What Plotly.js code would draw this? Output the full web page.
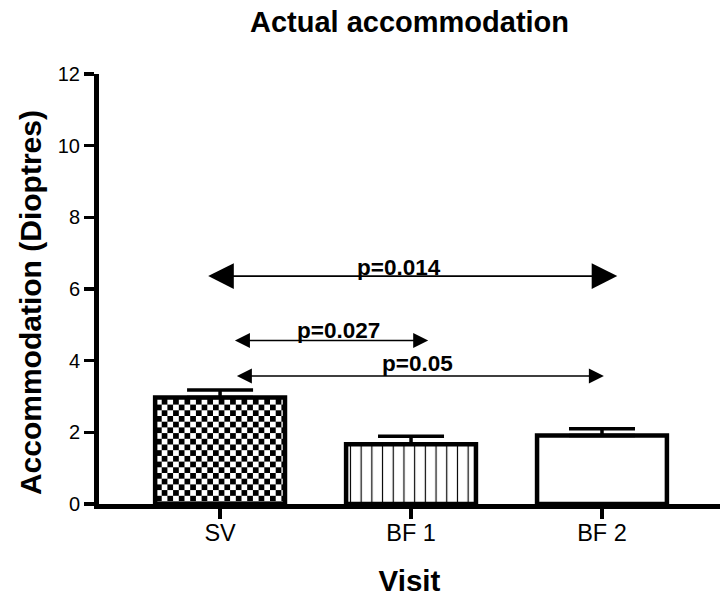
<!DOCTYPE html>
<html>
<head>
<meta charset="utf-8">
<script src="https://cdn.plot.ly/plotly-3.0.1.min.js"></script>
<style>html,body{margin:0;padding:0;background:#fff;}#chart{width:720px;height:597px;}</style>
</head>
<body>
<div id="chart"></div>
<script>
// ---- data ----
const visits = ["SV", "BF 1", "BF 2"];
const accommodation = [2.97, 1.67, 1.91];
const errorUp = [0.21, 0.22, 0.19];
const yTicks = [0, 2, 4, 6, 8, 10, 12];
const pLabels = ["p=0.014", "p=0.027", "p=0.05"];
const pFrom = [0, 0, 0];
const pTo = [2, 1, 2];
const pLevel = [6.36, 4.56, 3.57];

const FONT = "Liberation Sans, Arial, Helvetica, sans-serif";

const trace = {
  type: "bar",
  x: visits,
  y: accommodation,
  width: 0.68,
  marker: {
    color: "#ffffff",
    line: { color: "#000", width: 4.5 },
    pattern: {
      shape: ["", "|", ""],
      size: 10.7,
      solidity: 0.11,
      fgcolor: "#000",
      bgcolor: "#fff",
      fillmode: "replace"
    }
  },
  error_y: {
    type: "data",
    symmetric: false,
    array: errorUp,
    arrayminus: [0, 0, 0],
    color: "#000",
    thickness: 3.5,
    width: 33
  },
  hoverinfo: "skip"
};

const annotations = [];
const arrowOffsets = [[-0.07, 0.08], [0.07, 0.09], [0.08, 0.01]];
const labelY = [6.59, 4.83, 3.91];
const labelX = [0.937, 0.62, 1.036];
for (let i = 0; i < pLabels.length; i++) {
  const big = i === 0;
  annotations.push({
    x: pTo[i] + arrowOffsets[i][1], y: pLevel[i],
    ax: pFrom[i] + arrowOffsets[i][0], ay: pLevel[i],
    xref: "x", yref: "y", axref: "x", ayref: "y",
    text: "", showarrow: true,
    arrowside: "end+start",
    arrowhead: 2, startarrowhead: 2,
    arrowwidth: big ? 1.6 : 1.5,
    arrowsize: big ? 3.2 : 2, startarrowsize: big ? 3.2 : 2,
    arrowcolor: "#000", standoff: 0, startstandoff: 0
  });
  annotations.push({
    x: labelX[i], y: labelY[i], xref: "x", yref: "y",
    text: "<b>" + pLabels[i] + "</b>", showarrow: false,
    xanchor: "center", yanchor: "middle",
    font: { family: FONT, size: 22.5, color: "#000" }
  });
}
// y-axis title as a rotated annotation (placed like the reference)
annotations.push({
  text: "<b>Accommodation (Dioptres)</b>", textangle: -90, showarrow: false,
  xref: "paper", yref: "paper", x: -0.111, y: 0.4674,
  xanchor: "center", yanchor: "middle",
  font: { family: FONT, size: 30, color: "#000" }
});

const layout = {
  width: 720, height: 597,
  margin: { l: 99, r: 0, t: 74, b: 93, pad: 0 },
  paper_bgcolor: "#fff", plot_bgcolor: "#fff",
  showlegend: false,
  title: {
    text: "<b>Actual accommodation</b>",
    font: { family: FONT, size: 29, color: "#000" },
    x: 0.5, xref: "paper", xanchor: "center",
    y: 1 - 22 / 597, yref: "container", yanchor: "middle"
  },
  xaxis: {
    type: "category",
    categoryorder: "array", categoryarray: visits,
    range: [-0.634, 2.618],
    showline: true, linecolor: "#000", linewidth: 5,
    ticks: "outside", ticklen: 10, tickwidth: 3.5, tickcolor: "#000",
    ticklabelstandoff: -6,
    showgrid: false, zeroline: false,
    tickfont: { family: FONT, size: 23.5, color: "#000" },
    title: { text: "<b>Visit</b>", font: { family: FONT, size: 29.5, color: "#000" }, standoff: 30 },
    fixedrange: true
  },
  yaxis: {
    range: [0, 12],
    tickvals: yTicks, ticktext: yTicks.map(String),
    showline: true, linecolor: "#000", linewidth: 5,
    ticks: "outside", ticklen: 10, tickwidth: 3.5, tickcolor: "#000",
    showgrid: false, zeroline: false,
    tickfont: { family: FONT, size: 20, color: "#000" },
    fixedrange: true
  },
  annotations: annotations
};

Plotly.newPlot("chart", [trace], layout, { displayModeBar: false, staticPlot: true }).then(function (gd) {
  // checkerboard fill for the SV bar
  const NS = "http://www.w3.org/2000/svg";
  let defs = gd.querySelector("defs");
  const s = 5.7;
  const pat = document.createElementNS(NS, "pattern");
  pat.setAttribute("id", "checkerSV");
  pat.setAttribute("patternUnits", "userSpaceOnUse");
  pat.setAttribute("width", 2 * s);
  pat.setAttribute("height", 2 * s);
  [[0, 0, "#fff", 2 * s], [0, 0, "#000", s], [s, s, "#000", s]].forEach(function (c) {
    const r = document.createElementNS(NS, "rect");
    r.setAttribute("x", c[0]); r.setAttribute("y", c[1]);
    r.setAttribute("width", c[3]); r.setAttribute("height", c[3]);
    r.setAttribute("fill", c[2]);
    pat.appendChild(r);
  });
  defs.appendChild(pat);
  const paths = gd.querySelectorAll(".trace.bars .point path");
  if (paths.length) {
    const p = paths[0];
    const st = (p.getAttribute("style") || "").replace(/fill:[^;]*;/, "fill: url(#checkerSV);");
    p.setAttribute("style", st);
  }
});
</script>
</body>
</html>
